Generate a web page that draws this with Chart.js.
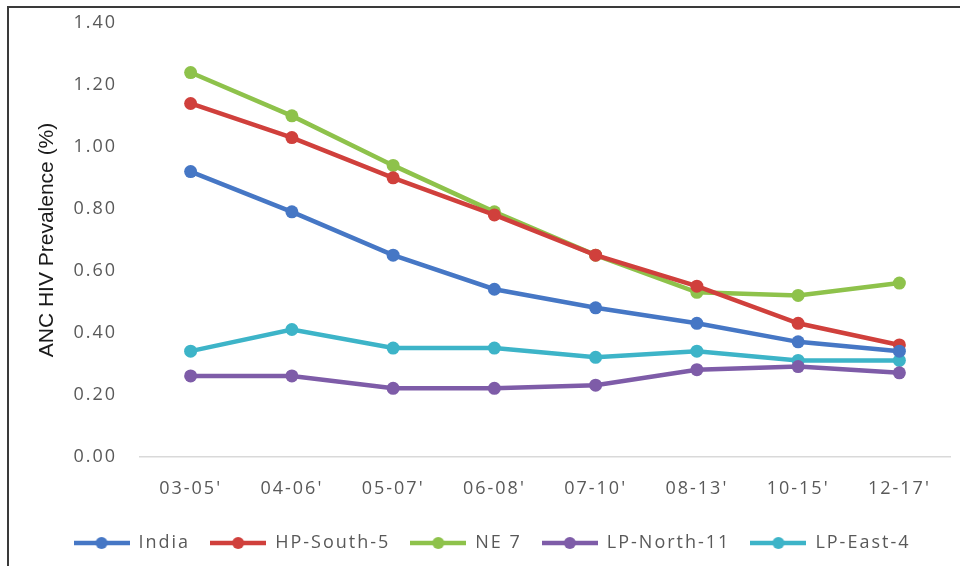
<!DOCTYPE html>
<html>
<head>
<meta charset="utf-8">
<script src="https://cdn.jsdelivr.net/npm/chart.js@4/dist/chart.umd.min.js"></script>
<style>
  html, body { margin: 0; padding: 0; background: #fff; }
  #wrap { position: relative; width: 960px; height: 566px; overflow: hidden; }
  #frame { position: absolute; left: 7px; top: 6px; width: 980px; height: 600px;
           border-left: 2px solid #3a3a3a; border-top: 2px solid #3a3a3a; pointer-events: none; }
  canvas { position: absolute; left: 0; top: 0; }
</style>
</head>
<body>
<div id="wrap">
  <canvas id="c" width="960" height="566"></canvas>
  <div id="frame"></div>
</div>
<script>
const categories = ["03-05'", "04-06'", "05-07'", "06-08'", "07-10'", "08-13'", "10-15'", "12-17'"];
const india      = [0.92, 0.79, 0.65, 0.54, 0.48, 0.43, 0.37, 0.34];
const hpSouth5   = [1.14, 1.03, 0.90, 0.78, 0.65, 0.55, 0.43, 0.36];
const ne7        = [1.24, 1.10, 0.94, 0.79, 0.65, 0.53, 0.52, 0.56];
const lpNorth11  = [0.26, 0.26, 0.22, 0.22, 0.23, 0.28, 0.29, 0.27];
const lpEast4    = [0.34, 0.41, 0.35, 0.35, 0.32, 0.34, 0.31, 0.31];
const seriesNames = ["India", "HP-South-5", "NE 7", "LP-North-11", "LP-East-4"];
const yTitle = "ANC HIV Prevalence (%)";

const colors = ["#4677C5", "#D0403C", "#8EC24B", "#7E5CA8", "#3DB4C8"];
const values = [india, hpSouth5, ne7, lpNorth11, lpEast4];

function legendIcon(color) {
  const cv = document.createElement('canvas');
  cv.width = 56; cv.height = 14;
  const g = cv.getContext('2d');
  g.strokeStyle = color; g.lineWidth = 4.5;
  g.beginPath(); g.moveTo(0, 7); g.lineTo(56, 7); g.stroke();
  g.fillStyle = color;
  g.beginPath(); g.arc(28, 7, 6, 0, Math.PI * 2); g.fill();
  return cv;
}
const icons = colors.map(legendIcon);

const spacing = {
  id: 'spacing',
  beforeInit(c) { c.ctx.letterSpacing = '2px'; },
  beforeUpdate(c) { c.ctx.letterSpacing = '2px'; },
  beforeDraw(c) { c.ctx.letterSpacing = '2px'; },
  afterLayout(c) {
    if (c.legend) { c.legend.left += 17; c.legend.right += 17; }
  }
};

const yTitlePlugin = {
  id: 'yTitle',
  afterDraw(c) {
    const ctx = c.ctx;
    ctx.save();
    ctx.letterSpacing = '0px';
    ctx.translate(47, 240);
    ctx.rotate(-Math.PI / 2);
    ctx.font = '21px "Liberation Sans", Arial, sans-serif';
    ctx.fillStyle = '#1a1a1a';
    ctx.textAlign = 'center';
    ctx.textBaseline = 'middle';
    ctx.fillText(yTitle, 0, 0);
    ctx.restore();
  }
};

const tickFont = { family: '"Open Sans", sans-serif', size: 18 };
const textGray = '#595959';

new Chart(document.getElementById('c'), {
  type: 'line',
  data: {
    labels: categories,
    datasets: values.map((v, i) => ({
      label: seriesNames[i],
      data: v,
      borderColor: colors[i],
      backgroundColor: colors[i],
      borderWidth: 4.5,
      pointRadius: 6.5,
      pointBorderWidth: 0,
      pointBackgroundColor: colors[i],
      tension: 0
    }))
  },
  options: {
    responsive: false,
    animation: false,
    layout: { padding: { left: 0, right: 10, top: 23, bottom: 4 } },
    plugins: {
      tooltip: { enabled: false },
      legend: {
        position: 'bottom',
        labels: {
          usePointStyle: true,
          pointStyleWidth: 56,
          padding: 20,
          color: textGray,
          font: tickFont,
          generateLabels(chart) {
            const items = Chart.defaults.plugins.legend.labels.generateLabels(chart);
            items.forEach((it, i) => { it.pointStyle = icons[i]; });
            return items;
          }
        }
      }
    },
    scales: {
      x: {
        offset: true,
        grid: { display: false, drawTicks: false },
        border: { display: true, color: '#D9D9D9', width: 1.5 },
        ticks: { color: textGray, font: tickFont, padding: 22, maxRotation: 0 },
        afterFit(scale) { scale.height = scale.height - 8; }
      },
      y: {
        min: 0, max: 1.4,
        grid: { display: false, drawTicks: true, tickLength: 20 },
        border: { display: false },
        ticks: {
          stepSize: 0.2, color: textGray, font: tickFont, padding: 3,
          callback: (v) => Number(v).toFixed(2)
        },
        afterFit(scale) { scale.width = 140; }
      }
    }
  },
  plugins: [spacing, yTitlePlugin]
});
</script>
</body>
</html>
